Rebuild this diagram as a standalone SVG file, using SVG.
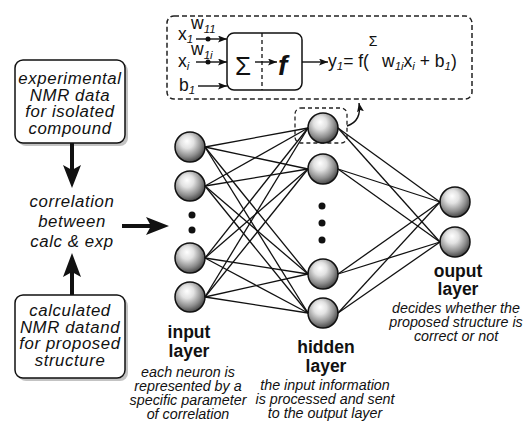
<svg xmlns="http://www.w3.org/2000/svg" width="523" height="426" viewBox="0 0 523 426">
<style>
.t{font-family:"Liberation Sans",Arial,sans-serif;fill:#111}
.box{font-size:16.8px;font-style:italic;letter-spacing:0.6px}
.lbl{font-size:17.5px;font-weight:bold}
.desc{font-size:14.3px;font-style:italic}
.eq{font-size:17.5px}
.sub{font-size:11.5px;font-style:italic}
.conn line{stroke:#111;stroke-width:1.3}
.node{fill:url(#sph);stroke:#111;stroke-width:1.5}
.dash{fill:none;stroke:#222;stroke-width:1.5;stroke-dasharray:5 3}
.thin{stroke:#111;stroke-width:1.4;fill:none}
</style>
<defs>
<radialGradient id="sph" cx="42%" cy="38%" r="62%" fx="40%" fy="30%">
<stop offset="0" stop-color="#ffffff"/>
<stop offset="0.35" stop-color="#e2e2e2"/>
<stop offset="0.75" stop-color="#8c8c8c"/>
<stop offset="1" stop-color="#4a4a4a"/>
</radialGradient>
<marker id="ah" markerUnits="userSpaceOnUse" markerWidth="10" markerHeight="8" refX="9" refY="3.5" orient="auto">
<path d="M0,0 L9,3.5 L0,7 L2,3.5 z" fill="#111"/>
</marker>
</defs>

<!-- neuron model box -->
<g id="neuron-model">
<rect class="dash" x="167" y="16" width="305" height="83" rx="7"/>
<rect x="227" y="33" width="75" height="57" rx="7" fill="#fff" stroke="#111" stroke-width="1.5"/>
<line x1="262" y1="33" x2="262" y2="90" stroke="#111" stroke-width="1.3" stroke-dasharray="4 3"/>
<text class="t" x="235" y="75" font-size="26">Σ</text>
<text class="t" x="278" y="75" font-size="28" font-style="italic" font-weight="bold">f</text>
<text class="t eq" x="178" y="40">x<tspan class="sub" dy="3">1</tspan></text>
<text class="t eq" x="191" y="29">w<tspan class="sub" dy="4">11</tspan></text>
<text class="t eq" x="178" y="67">x<tspan class="sub" dy="3">i</tspan></text>
<text class="t eq" x="191" y="55">w<tspan class="sub" dy="4">1i</tspan></text>
<text class="t eq" x="179" y="91">b<tspan class="sub" dy="3">1</tspan></text>
<text class="t eq" x="328" y="67">y<tspan class="sub" dy="3">1</tspan><tspan dy="-3">= f(</tspan></text>
<text class="t" x="373" y="46" font-size="14" text-anchor="middle">Σ</text>
<text class="t eq" x="382" y="67">w<tspan class="sub" dy="3">1i</tspan><tspan dy="-3">x</tspan><tspan class="sub" dy="3">i</tspan><tspan dy="-3"> + b</tspan><tspan class="sub" dy="3">1</tspan><tspan dy="-3">)</tspan></text>
<circle cx="208" cy="39" r="2.5" fill="#111"/>
<circle cx="208" cy="62" r="2.5" fill="#111"/>
</g>

<!-- left boxes -->
<g id="exp-box">
<rect x="18" y="63" width="110" height="83" rx="8" fill="#aaa" opacity="0.7"/>
<rect x="15" y="60" width="110" height="83" rx="8" fill="#fff" stroke="#111" stroke-width="1.5"/>
<text class="t box" text-anchor="middle" x="70" y="84">experimental</text>
<text class="t box" text-anchor="middle" x="70" y="100.5">NMR data</text>
<text class="t box" text-anchor="middle" x="70" y="117">for isolated</text>
<text class="t box" text-anchor="middle" x="70" y="133.5">compound</text>
</g>
<g id="calc-box">
<rect x="18" y="298" width="110" height="83" rx="8" fill="#aaa" opacity="0.7"/>
<rect x="15" y="295" width="110" height="83" rx="8" fill="#fff" stroke="#111" stroke-width="1.5"/>
<text class="t box" text-anchor="middle" x="70" y="316">calculated</text>
<text class="t box" text-anchor="middle" x="70" y="332.5">NMR datand</text>
<text class="t box" text-anchor="middle" x="70" y="349">for proposed</text>
<text class="t box" text-anchor="middle" x="70" y="365.5">structure</text>
</g>
<g id="correlation">
<text class="t box" text-anchor="middle" x="72" y="207" font-size="17.5px">correlation</text>
<text class="t box" text-anchor="middle" x="72" y="227" font-size="17.5px">between</text>
<text class="t box" text-anchor="middle" x="72" y="247" font-size="17.5px">calc &amp; exp</text>
</g>

<!-- input layer -->
<g id="input-layer">
<circle class="node" cx="190" cy="147" r="15"/>
<circle class="node" cx="190" cy="186" r="15"/>
<circle cx="192" cy="215" r="3.5" fill="#111"/>
<circle cx="192" cy="230" r="3.5" fill="#111"/>
<circle class="node" cx="190" cy="258" r="15"/>
<circle class="node" cx="190" cy="297" r="15"/>
<text class="t lbl" text-anchor="middle" x="189" y="338">input</text>
<text class="t lbl" text-anchor="middle" x="189" y="357">layer</text>
<text class="t desc" text-anchor="middle" x="188" y="377">each neuron is</text>
<text class="t desc" text-anchor="middle" x="188" y="391">represented by a</text>
<text class="t desc" text-anchor="middle" x="188" y="405">specific parameter</text>
<text class="t desc" text-anchor="middle" x="188" y="419">of correlation</text>
</g>

<!-- hidden layer -->
<g id="hidden-layer">
<rect x="295" y="108" width="52" height="35" rx="6" fill="none" stroke="#222" stroke-width="1.3" stroke-dasharray="4 3"/>
<circle class="node" cx="323" cy="128" r="15"/>
<circle class="node" cx="323" cy="169" r="15"/>
<circle cx="322" cy="206" r="3.5" fill="#111"/>
<circle cx="322" cy="223" r="3.5" fill="#111"/>
<circle cx="322" cy="240" r="3.5" fill="#111"/>
<circle class="node" cx="323" cy="274" r="15"/>
<circle class="node" cx="323" cy="313" r="15"/>
<text class="t lbl" text-anchor="middle" x="326" y="353">hidden</text>
<text class="t lbl" text-anchor="middle" x="326" y="372">layer</text>
<text class="t desc" text-anchor="middle" x="325" y="390">the input information</text>
<text class="t desc" text-anchor="middle" x="325" y="404">is processed and sent</text>
<text class="t desc" text-anchor="middle" x="325" y="418">to the output layer</text>
</g>

<!-- output layer -->
<g id="output-layer">
<circle class="node" cx="455" cy="202" r="15"/>
<circle class="node" cx="455" cy="242" r="15"/>
<text class="t lbl" text-anchor="middle" x="458" y="277">ouput</text>
<text class="t lbl" text-anchor="middle" x="458" y="295">layer</text>
<text class="t desc" text-anchor="middle" x="456" y="313">decides whether the</text>
<text class="t desc" text-anchor="middle" x="456" y="327">proposed structure is</text>
<text class="t desc" text-anchor="middle" x="456" y="341">correct or not</text>
</g>

<!-- connectors -->
<g id="connectors">
<g class="conn">
<line x1="205" y1="147" x2="308" y2="128"/>
<line x1="205" y1="147" x2="308" y2="169"/>
<line x1="205" y1="147" x2="308" y2="274"/>
<line x1="205" y1="147" x2="308" y2="313"/>
<line x1="205" y1="186" x2="308" y2="128"/>
<line x1="205" y1="186" x2="308" y2="169"/>
<line x1="205" y1="186" x2="308" y2="274"/>
<line x1="205" y1="186" x2="308" y2="313"/>
<line x1="205" y1="258" x2="308" y2="128"/>
<line x1="205" y1="258" x2="308" y2="169"/>
<line x1="205" y1="258" x2="308" y2="274"/>
<line x1="205" y1="258" x2="308" y2="313"/>
<line x1="205" y1="297" x2="308" y2="128"/>
<line x1="205" y1="297" x2="308" y2="169"/>
<line x1="205" y1="297" x2="308" y2="274"/>
<line x1="205" y1="297" x2="308" y2="313"/>
<line x1="338" y1="128" x2="440" y2="202"/>
<line x1="338" y1="128" x2="440" y2="242"/>
<line x1="338" y1="169" x2="440" y2="202"/>
<line x1="338" y1="169" x2="440" y2="242"/>
<line x1="338" y1="274" x2="440" y2="202"/>
<line x1="338" y1="274" x2="440" y2="242"/>
<line x1="338" y1="313" x2="440" y2="202"/>
<line x1="338" y1="313" x2="440" y2="242"/>
</g>
<!-- neuron model arrows -->
<line class="thin" x1="196" y1="39" x2="227" y2="39" marker-end="url(#ah)"/>
<line class="thin" x1="196" y1="62" x2="227" y2="62" marker-end="url(#ah)"/>
<line class="thin" x1="198" y1="86" x2="227" y2="86" marker-end="url(#ah)"/>
<line class="thin" x1="255" y1="62" x2="277" y2="62" marker-end="url(#ah)"/>
<line class="thin" x1="302" y1="62" x2="328" y2="62" marker-end="url(#ah)"/>
<path class="thin" d="M347,126 Q362,121 359,103" marker-end="url(#ah)"/>
<!-- thick arrows -->
<line x1="72" y1="143" x2="72" y2="172" stroke="#111" stroke-width="4"/>
<path d="M63,165 L72,188 L81,165 L72,170 z" fill="#111"/>
<line x1="72" y1="295" x2="72" y2="270" stroke="#111" stroke-width="4"/>
<path d="M63,277 L72,253 L81,277 L72,272 z" fill="#111"/>
<line x1="122" y1="226" x2="152" y2="226" stroke="#111" stroke-width="4"/>
<path d="M146,217 L169,226 L146,235 L151,226 z" fill="#111"/>
</g>
</svg>
